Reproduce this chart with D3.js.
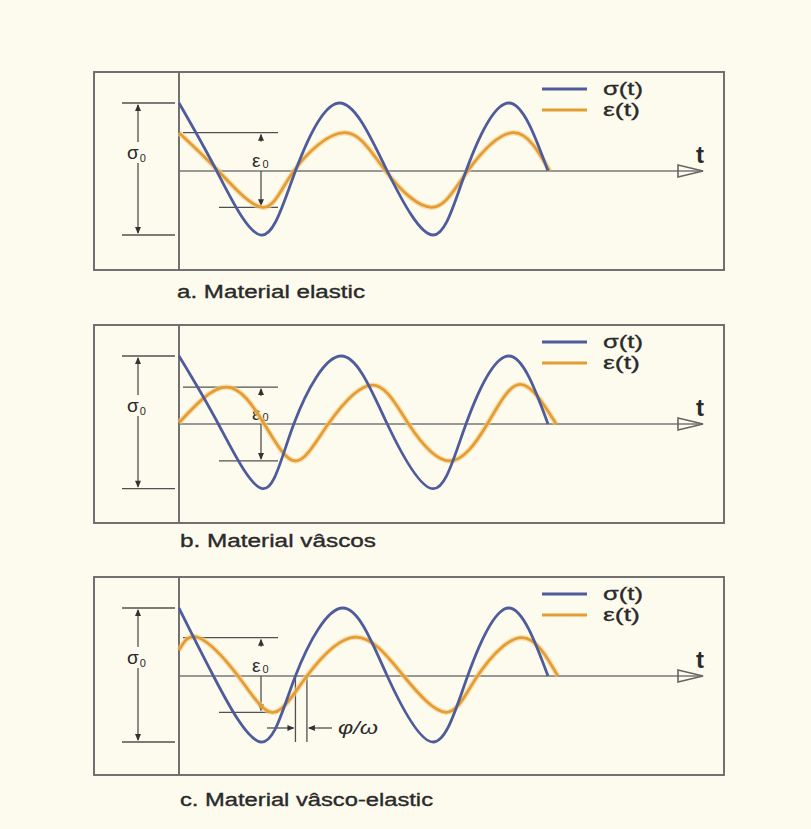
<!DOCTYPE html>
<html><head><meta charset="utf-8">
<script src="https://cdn.jsdelivr.net/npm/d3@7"></script>
<style>html,body{margin:0;padding:0;background:#fdfbee;} svg{display:block;}</style>
</head><body><svg id="c" width="811" height="829"></svg>
<script>
// ---- data (time in periods of σ, amplitude relative to σ0) ----
const captions = ["a. Material elastic", "b. Material vâscos", "c. Material vâsco-elastic"];
const legendLabels = ["σ(t)", "ε(t)"];
const sigmaT_a = [0, 0.23, 0.50, 0.71, 0.98, 1.27, 1.55, 1.75, 2.01, 2.25];
const sigmaV_a = [1.03, 0, -0.97, 0, 1.03, 0, -0.97, 0, 1.03, 0];
const epsT_a   = [0, 0.24, 0.51, 0.70, 1.01, 1.26, 1.54, 1.76, 2.04, 2.26];
const epsV_a   = [0.58, 0, -0.55, 0, 0.58, 0, -0.55, 0, 0.58, 0];
const sigmaT_b = [0, 0.24, 0.51, 0.70, 0.99, 1.27, 1.55, 1.75, 2.01, 2.25];
const sigmaV_b = [1.03, 0, -0.98, 0, 1.03, 0, -0.98, 0, 1.03, 0];
const epsT_b   = [0, 0.29, 0.52, 0.71, 0.91, 1.18, 1.40, 1.65, 1.88, 2.08, 2.30];
const epsV_b   = [0.02, 0.56, 0, -0.56, 0, 0.59, 0, -0.56, 0, 0.60, 0];
const sigmaT_c = [0, 0.21, 0.50, 0.71, 1.00, 1.27, 1.55, 1.76, 2.01, 2.25];
const sigmaV_c = [1.03, 0, -1.0, 0, 1.03, 0, -1.0, 0, 1.03, 0];
const epsT_c   = [0, 0.12, 0.36, 0.57, 0.78, 1.08, 1.37, 1.63, 1.82, 2.09, 2.31];
const epsV_c   = [0.39, 0.58, 0, -0.55, 0, 0.59, 0, -0.55, 0, 0.58, 0];

const panelData = [
  {sT: sigmaT_a, sV: sigmaV_a, eT: epsT_a, eV: epsV_a, phase: false},
  {sT: sigmaT_b, sV: sigmaV_b, eT: epsT_b, eV: epsV_b, phase: false},
  {sT: sigmaT_c, sV: sigmaV_c, eT: epsT_c, eV: epsV_c, phase: true}
];

// ---- layout ----
const BG = "#fdfbee", GRID = "#6a6a6a", BLUE = "#4e5c9c", ORANGE = "#e49d33", TXT = "#2a2a2a";
const FONT = "Liberation Sans, Arial, sans-serif";
const panelTops = [72, 325, 577];
const captionPos = [[177, 298, 188], [180, 547, 196], [180, 806, 253]];
const boxX0 = 94, boxX1 = 724, boxH = 198, axisX = 179;

const svg = d3.select("#c");
svg.append("rect").attr("width", 811).attr("height", 829).attr("fill", BG);

const x = d3.scaleLinear().domain([0, 2.25]).range([axisX, axisX + 369]);

function head(g, px, py, dir) { // tip at (px,py)
  const L = 7, W = 3;
  let pts;
  if (dir === "up") pts = [[px, py], [px - W, py + L], [px + W, py + L]];
  else if (dir === "down") pts = [[px, py], [px - W, py - L], [px + W, py - L]];
  else if (dir === "right") pts = [[px, py], [px - L, py - W], [px - L, py + W]];
  else pts = [[px, py], [px + L, py - W], [px + L, py + W]];
  g.append("path").attr("d", "M" + pts.map(p => p.join(",")).join("L") + "Z").attr("fill", "#333");
}
function seg(g, x1, y1, x2, y2, w, col) {
  g.append("line").attr("x1", x1).attr("y1", y1).attr("x2", x2).attr("y2", y2)
    .attr("stroke", col || "#505050").attr("stroke-width", w || 1.3);
}

panelData.forEach((pd, i) => {
  const top = panelTops[i];
  const zero = top + 99;
  const y = d3.scaleLinear().domain([-1, 1]).range([zero + 66, zero - 66]);
  const g = svg.append("g");

  // box and axes
  g.append("rect").attr("x", boxX0).attr("y", top).attr("width", boxX1 - boxX0).attr("height", boxH)
    .attr("fill", BG).attr("stroke", GRID).attr("stroke-width", 1.9);
  seg(g, axisX, top, axisX, top + boxH, 1.9, GRID);
  seg(g, axisX, zero, 703, zero, 1.7, "#777");
  g.append("path").attr("d", `M678,${zero - 6}L703,${zero}L678,${zero + 6}Z`)
    .attr("fill", "none").attr("stroke", "#666").attr("stroke-width", 1.6);
  g.append("text").attr("x", 696).attr("y", zero - 8).attr("font-family", FONT)
    .attr("font-size", 24).attr("font-weight", "bold").attr("fill", TXT).text("t");

  // σ0 annotation
  const sMax = d3.max(pd.sV), sMin = d3.min(pd.sV);
  seg(g, 122, y(sMax), 175, y(sMax));
  seg(g, 122, y(sMin), 175, y(sMin));
  seg(g, 138, y(sMax) + 2, 138, zero - 29);
  seg(g, 138, zero - 8, 138, y(sMin) - 2);
  head(g, 138, y(sMax) + 1, "up");
  head(g, 138, y(sMin) - 1, "down");
  const st = g.append("text").attr("x", 127).attr("y", zero - 12)
    .attr("font-family", FONT).attr("font-size", 19).attr("fill", TXT);
  st.append("tspan").text("σ");
  st.append("tspan").attr("font-size", 11).attr("dy", 3).attr("dx", 1).text("0");

  // ε0 annotation (first period)
  const firstE = pd.eT.map((t, k) => t < 1 ? pd.eV[k] : 0);
  const eMax = d3.max(firstE), eMin = d3.min(firstE);
  seg(g, 183, y(eMax), 278, y(eMax));
  seg(g, 219, y(eMin), 278, y(eMin));
  seg(g, 261, y(eMax) + 2, 261, y(eMax) + 9);
  head(g, 261, y(eMax) + 1, "up");
  seg(g, 261, zero, 261, y(eMin) - 2);
  head(g, 261, y(eMin) - 1, "down");
  const et = g.append("text").attr("x", 252).attr("y", zero - 4)
    .attr("font-family", FONT).attr("font-size", 19).attr("fill", TXT);
  et.append("tspan").text("ε");
  et.append("tspan").attr("font-size", 11).attr("dy", 1).attr("dx", 2).text("0");

  // phase lag annotation
  if (pd.phase) {
    const xs = x(pd.sT[3]), xe = x(pd.eT[4]);
    seg(g, xs, zero, xs, y(-1));
    seg(g, xe, zero, xe, y(-1));
    const ya = zero + 52;
    seg(g, 267, ya, xs - 2, ya);
    head(g, xs - 1, ya, "right");
    seg(g, 332, ya, xe + 2, ya);
    head(g, xe + 1, ya, "left");
    g.append("text").attr("x", 338).attr("y", ya + 6).attr("font-family", FONT)
      .attr("font-style", "italic").attr("font-size", 18).attr("fill", TXT)
      .attr("textLength", 40).attr("lengthAdjust", "spacingAndGlyphs").text("φ/ω");
  }

  // curves
  const line = d3.line().x(d => x(d[0])).y(d => y(d[1])).curve(d3.curveNatural);
  const eps = pd.eT.map((t, k) => [t, pd.eV[k]]);
  const sig = pd.sT.map((t, k) => [t, pd.sV[k]]);
  g.append("path").attr("d", line(eps)).attr("fill", "none").attr("stroke", "#f3cf8c")
    .attr("stroke-width", 5.5).attr("stroke-opacity", 0.6);
  g.append("path").attr("d", line(eps)).attr("fill", "none").attr("stroke", ORANGE).attr("stroke-width", 2.8);
  g.append("path").attr("d", line(sig)).attr("fill", "none").attr("stroke", BLUE).attr("stroke-width", 2.8);

  // legend
  const lc = [BLUE, ORANGE], ly = [top + 17, top + 38], lw = [40, 37];
  legendLabels.forEach((lab, k) => {
    seg(g, 542, ly[k], 587, ly[k], 3, lc[k]);
    g.append("text").attr("x", 603).attr("y", ly[k] + 6).attr("font-family", FONT)
      .attr("font-size", 17.5).attr("fill", TXT).attr("stroke", TXT).attr("stroke-width", 0.3)
      .attr("textLength", lw[k]).attr("lengthAdjust", "spacingAndGlyphs").text(lab);
  });

  // caption
  const cp = captionPos[i];
  svg.append("text").attr("x", cp[0]).attr("y", cp[1]).attr("font-family", FONT)
    .attr("font-size", 18).attr("fill", TXT).attr("stroke", TXT).attr("stroke-width", 0.35)
    .attr("textLength", cp[2]).attr("lengthAdjust", "spacingAndGlyphs").text(captions[i]);
});
</script></body></html>
